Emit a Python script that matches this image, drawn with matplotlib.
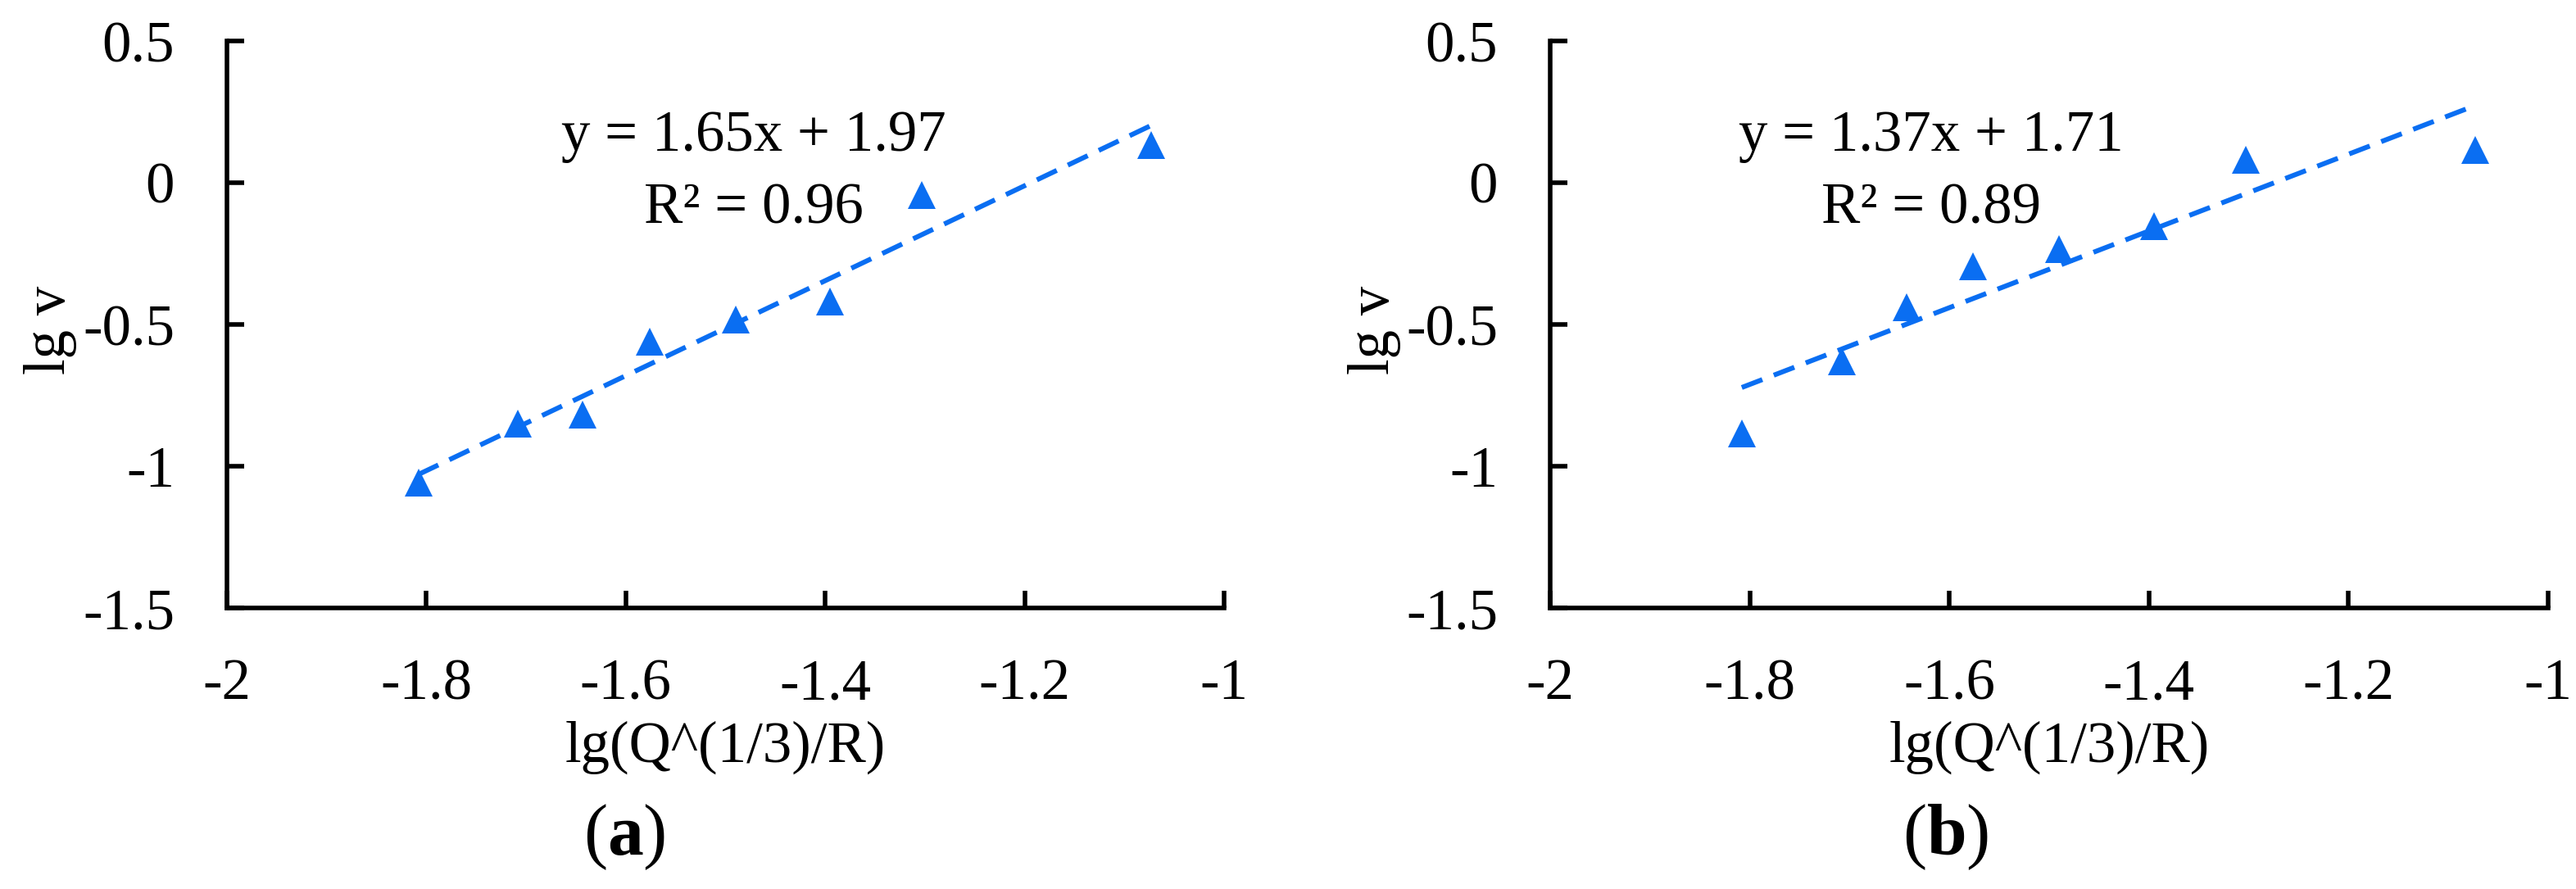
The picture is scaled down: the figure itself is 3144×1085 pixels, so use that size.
import numpy as np
import matplotlib
matplotlib.use("Agg")
import matplotlib.pyplot as plt

# ---- data ----
x_vals = [-1.808, -1.708, -1.643, -1.576, -1.490, -1.395, -1.303, -1.073]
y_a = [-1.058, -0.850, -0.818, -0.562, -0.482, -0.420, -0.042, 0.134]
y_b = [-0.884, -0.630, -0.438, -0.296, -0.234, -0.154, 0.082, 0.116]
eq_a = ["y = 1.65x + 1.97", "R\u00b2 = 0.96"]
eq_b = ["y = 1.37x + 1.71", "R\u00b2 = 0.89"]
panel_labels = ["a", "b"]
xticks = [-2, -1.8, -1.6, -1.4, -1.2, -1]
xticklabels = ["-2", "-1.8", "-1.6", "-1.4", "-1.2", "-1"]
yticks = [0.5, 0, -0.5, -1, -1.5]
yticklabels = ["0.5", "0", "-0.5", "-1", "-1.5"]
xlabel = "lg(Q^(1/3)/R)"
ylabel = "lg v"

plt.rcParams['font.family'] = ['Liberation Serif', 'DejaVu Serif']
plt.rcParams['mathtext.fontset'] = 'custom'
plt.rcParams['mathtext.rm'] = 'Liberation Serif'
plt.rcParams['mathtext.bf'] = 'Liberation Serif:bold'
plt.rcParams['axes.unicode_minus'] = False

W, H = 3144, 1085
fig = plt.figure(figsize=(W / 100, H / 100), dpi=100)
blue = '#0A6EF2'
fs = 51

axes_px = [(277, 1494), (1892, 3110)]
top_px, bot_px = 50, 742
eq_cx = [0.528, 0.382]
panel_cx = [762, 2375]
ylabel_offset_px = 215  # distance of y-label centre left of spine

for i, (ys, eq) in enumerate([(y_a, eq_a), (y_b, eq_b)]):
    l, r = axes_px[i]
    ax = fig.add_axes([l / W, (H - bot_px) / H, (r - l) / W, (bot_px - top_px) / H])
    ax.set_xlim(-2, -1)
    ax.set_ylim(-1.5, 0.5)
    for s in ['top', 'right']:
        ax.spines[s].set_visible(False)
    for s in ['left', 'bottom']:
        ax.spines[s].set_linewidth(4)
    ax.set_xticks(xticks)
    ax.set_xticklabels(xticklabels)
    ax.set_yticks(yticks)
    ax.set_yticklabels(yticklabels)
    ax.tick_params(axis='both', direction='in', length=15, width=4, labelsize=fs)
    ax.tick_params(axis='x', pad=44)
    ax.tick_params(axis='y', pad=46)

    xs = np.array(x_vals)
    yv = np.array(ys)
    ax.plot(xs, yv, linestyle='none', marker='^', ms=25, color=blue,
            markeredgewidth=0, clip_on=False, zorder=3)
    k, b = np.polyfit(xs, yv, 1)
    xl = np.array([xs.min(), xs.max()])
    ax.plot(xl, k * xl + b, linestyle=(0, (4.5, 2.5)), lw=4.3, color=blue,
            clip_on=False, zorder=2)

    ax.text(eq_cx[i], 0.806, eq[0], transform=ax.transAxes, ha='center',
            va='baseline', fontsize=fs)
    ax.text(eq_cx[i], 0.678, eq[1], transform=ax.transAxes, ha='center',
            va='baseline', fontsize=fs)

    ax.set_xlabel(xlabel, fontsize=fs, va='baseline')
    ax.xaxis.set_label_coords(0.5, -(930 - bot_px) / (bot_px - top_px))
    ax.set_ylabel(ylabel, fontsize=fs, va='center')
    ax.yaxis.set_label_coords(-ylabel_offset_px / (r - l), 0.49)

    fig.text(panel_cx[i] / W, (H - 1043) / H, "($\\mathbf{%s}$)" % panel_labels[i],
             ha='center', va='baseline', fontsize=63)

fig.savefig("out.png", dpi=100)
